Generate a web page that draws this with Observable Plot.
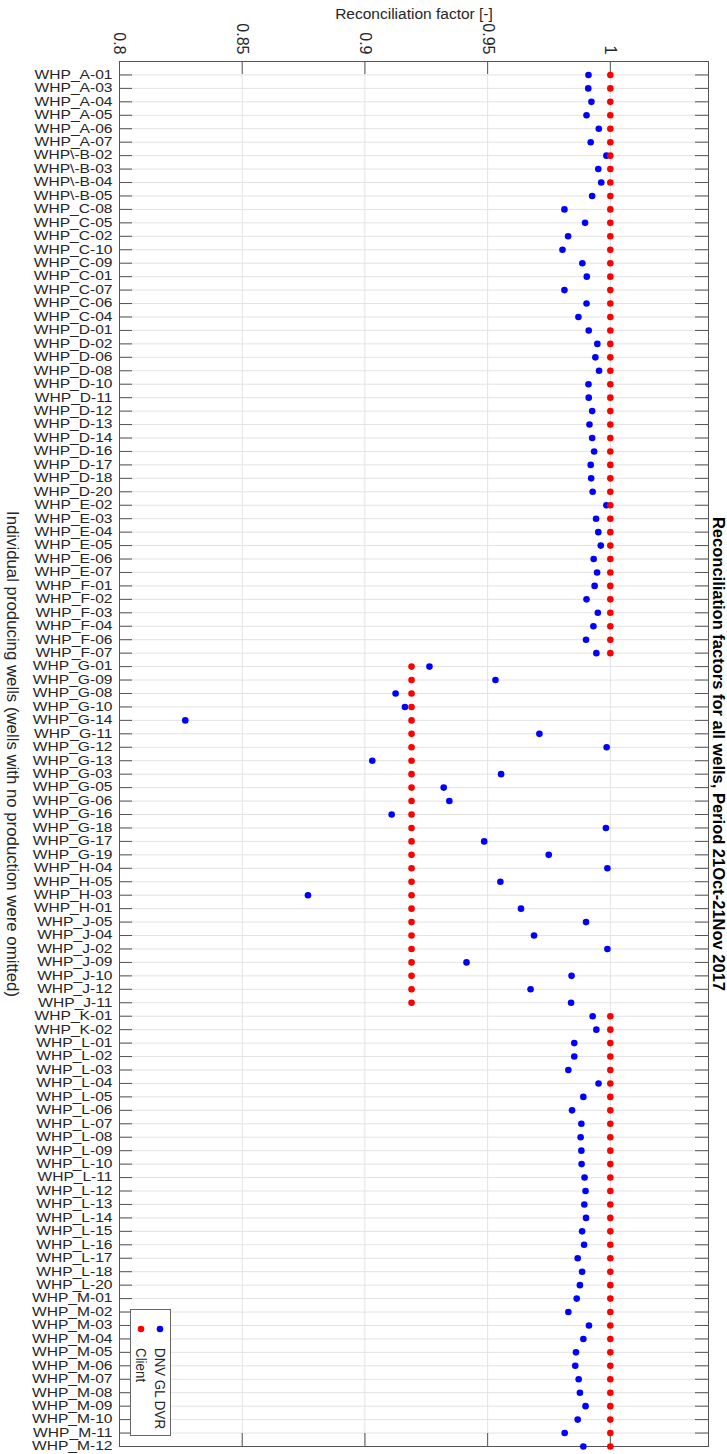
<!DOCTYPE html>
<html>
<head>
<meta charset="utf-8">
<script src="https://cdn.jsdelivr.net/npm/d3@7"></script>
<script src="https://cdn.jsdelivr.net/npm/@observablehq/plot@0.6"></script>
<style>
  html, body { margin: 0; padding: 0; background: #fff; }
  #chart svg { display: block; }
</style>
</head>
<body>
<div id="chart"></div>
<script>
const wells = [
  "WHP_A-01","WHP_A-03","WHP_A-04","WHP_A-05","WHP_A-06","WHP_A-07",
  "WHP\\-B-02","WHP\\-B-03","WHP\\-B-04","WHP\\-B-05",
  "WHP_C-08","WHP_C-05","WHP_C-02","WHP_C-10","WHP_C-09","WHP_C-01","WHP_C-07","WHP_C-06","WHP_C-04",
  "WHP_D-01","WHP_D-02","WHP_D-06","WHP_D-08","WHP_D-10","WHP_D-11","WHP_D-12","WHP_D-13","WHP_D-14","WHP_D-16","WHP_D-17","WHP_D-18","WHP_D-20",
  "WHP_E-02","WHP_E-03","WHP_E-04","WHP_E-05","WHP_E-06","WHP_E-07",
  "WHP_F-01","WHP_F-02","WHP_F-03","WHP_F-04","WHP_F-06","WHP_F-07",
  "WHP_G-01","WHP_G-09","WHP_G-08","WHP_G-10","WHP_G-14","WHP_G-11","WHP_G-12","WHP_G-13","WHP_G-03","WHP_G-05","WHP_G-06","WHP_G-16","WHP_G-18","WHP_G-17","WHP_G-19",
  "WHP_H-04","WHP_H-05","WHP_H-03","WHP_H-01",
  "WHP_J-05","WHP_J-04","WHP_J-02","WHP_J-09","WHP_J-10","WHP_J-12","WHP_J-11",
  "WHP_K-01","WHP_K-02",
  "WHP_L-01","WHP_L-02","WHP_L-03","WHP_L-04","WHP_L-05","WHP_L-06","WHP_L-07","WHP_L-08","WHP_L-09","WHP_L-10","WHP_L-11","WHP_L-12","WHP_L-13","WHP_L-14","WHP_L-15","WHP_L-16","WHP_L-17","WHP_L-18","WHP_L-20",
  "WHP_M-01","WHP_M-02","WHP_M-03","WHP_M-04","WHP_M-05","WHP_M-06","WHP_M-07","WHP_M-08","WHP_M-09","WHP_M-10","WHP_M-11","WHP_M-12"
];

const dvr = [
  0.9911,0.9910,0.9923,0.9903,0.9953,0.9920,
  0.9984,0.9951,0.9963,0.9926,
  0.9813,0.9897,0.9828,0.9805,0.9886,0.9904,0.9813,0.9903,0.9870,
  0.9912,0.9947,0.9939,0.9954,0.9911,0.9912,0.9926,0.9915,0.9926,0.9934,0.9920,0.9922,0.9928,
  0.9984,0.9942,0.9951,0.9961,0.9932,0.9946,
  0.9936,0.9903,0.9949,0.9931,0.9901,0.9943,
  0.9263,0.9532,0.9125,0.9163,0.8268,0.9711,0.9985,0.9030,0.9555,0.9321,0.9344,0.9109,0.9982,0.9486,0.9749,
  0.9988,0.9552,0.8768,0.9636,
  0.9901,0.9689,0.9988,0.9414,0.9842,0.9675,0.9840,
  0.9928,0.9943,
  0.9853,0.9853,0.9829,0.9952,0.9890,0.9844,0.9882,0.9879,0.9882,0.9883,0.9895,0.9899,0.9894,0.9901,0.9885,0.9893,0.9867,0.9885,0.9876,
  0.9863,0.9829,0.9913,0.9890,0.9860,0.9857,0.9871,0.9876,0.9899,0.9867,0.9814,0.9890
];

const client = [
  1,1,1,1,1,1,
  1,1,1,1,
  1,1,1,1,1,1,1,1,1,
  1,1,1,1,1,1,1,1,1,1,1,1,1,
  1,1,1,1,1,1,
  1,1,1,1,1,1,
  0.919,0.919,0.919,0.919,0.919,0.919,0.919,0.919,0.919,0.919,0.919,0.919,0.919,0.919,0.919,
  0.919,0.919,0.919,0.919,
  0.919,0.919,0.919,0.919,0.919,0.919,0.919,
  1,1,
  1,1,1,1,1,1,1,1,1,1,1,1,1,1,1,1,1,1,1,
  1,1,1,1,1,1,1,1,1,1,1,1
];

const xTicks = [0.8, 0.85, 0.9, 0.95, 1];
const xTickLabels = ["0.8", "0.85", "0.9", "0.95", "1"];
const xDomain = [0.8, 1.04];

const titleText = "Reconciliation factors for all wells, Period 21Oct-21Nov 2017";
const xLabelText = "Reconciliation factor [-]";
const yLabelText = "Individual producing wells (wells with no production were omitted)";

const seriesNames = ["DNV GL DVR", "Client"];
const seriesColors = ["#0000ff", "#ff0000"];

const rows = wells.map((w, k) => ({pos: k + 1, well: w, dvr: dvr[k], client: client[k]}));
const positions = rows.map(d => d.pos);

const W = 727, H = 1454;
const mL = 119, mR = 19, mT = 61, mB = 8;
const innerW = W - mL - mR, innerH = H - mT - mB;
const tickLen = 13;
const axisColor = "#555";
const gridColor = "#e3e3e3";
const font = "'Liberation Sans', Arial, Helvetica, sans-serif";

const chart = Plot.plot({
  width: W, height: H,
  marginLeft: mL, marginRight: mR, marginTop: mT, marginBottom: mB,
  x: {domain: xDomain, axis: null},
  y: {domain: [0, wells.length], reverse: true, axis: null},
  style: {fontFamily: font, fontSize: "15px", color: "#262626", background: "#fff", overflow: "visible"},
  marks: [
    Plot.gridY(positions, {stroke: gridColor, strokeOpacity: 1}),
    Plot.gridX(xTicks, {stroke: gridColor, strokeOpacity: 1}),
    // inward ticks on left and right
    Plot.ruleY(positions, {y: d => d, stroke: axisColor, insetRight: innerW - tickLen}),
    Plot.ruleY(positions, {y: d => d, stroke: axisColor, insetLeft: innerW - tickLen}),
    // inward ticks on top and bottom
    Plot.ruleX(xTicks, {x: d => d, stroke: axisColor, insetBottom: innerH - tickLen}),
    Plot.ruleX(xTicks, {x: d => d, stroke: axisColor, insetTop: innerH - tickLen}),
    Plot.frame({stroke: axisColor}),
    Plot.axisY(positions, {anchor: "left", tickSize: 0, tickPadding: 7, label: null,
      tickFormat: p => wells[p - 1], fontSize: 12, fill: "#262626"}),
    Plot.text(xTicks, {x: d => d, text: (d, k) => xTickLabels[k], frameAnchor: "top",
      rotate: 90, textAnchor: "end", lineAnchor: "middle", dy: -7, fontSize: 16, fill: "#262626",
      ariaLabel: "x-tick-label"}),
    Plot.text([xLabelText], {frameAnchor: "top", textAnchor: "middle", lineAnchor: "middle",
      dy: -47, fontSize: 15.5, fill: "#262626", ariaLabel: "x-label"}),
    Plot.text([yLabelText], {frameAnchor: "left", textAnchor: "middle", lineAnchor: "middle",
      rotate: 90, dx: -107, fontSize: 16.8, fill: "#262626", ariaLabel: "y-label"}),
    Plot.text([titleText], {frameAnchor: "right", textAnchor: "middle", lineAnchor: "middle",
      rotate: 90, dx: 10, fontSize: 16.5, fontWeight: "bold", fill: "#000", ariaLabel: "title"}),
    Plot.dot(rows, {x: "dvr", y: "pos", r: 3.3, fill: seriesColors[0], stroke: "none"}),
    Plot.dot(rows, {x: "client", y: "pos", r: 3.3, fill: seriesColors[1], stroke: "none"})
  ]
});

document.getElementById("chart").appendChild(chart);

// The reference figure is slightly anisotropic: stretch text along screen x.
function stretch(label, sx, sy) {
  d3.select(chart).selectAll(`g[aria-label="${label}"] text`).each(function() {
    const el = d3.select(this);
    let t = el.attr("transform");
    if (!t) {
      const x = +el.attr("x") || 0, y = +el.attr("y") || 0;
      t = `translate(${x},${y})`;
      el.attr("x", null).attr("y", null);
    }
    el.attr("transform", `${t} scale(${sx},${sy})`);
  });
}
stretch("y-axis tick label", 1.3, 1);
stretch("x-label", 1.12, 1);
stretch("x-tick-label", 0.84, 1);

// Legend (rotated, like the rest of the figure)
const svg = d3.select(chart);
const lg = svg.append("g").attr("class", "legend");
lg.append("rect").attr("x", 130.5).attr("y", 1309.5).attr("width", 40).attr("height", 126)
  .attr("fill", "#fff").attr("stroke", "#666");
const legendX = [160, 141];
seriesNames.forEach((name, k) => {
  lg.append("circle").attr("cx", legendX[k]).attr("cy", 1329).attr("r", 3.3).attr("fill", seriesColors[k]);
  lg.append("text").attr("transform", `translate(${legendX[k]},1348) rotate(90) scale(0.89,1)`)
    .attr("text-anchor", "start").attr("dy", "0.35em").attr("font-size", 15).attr("fill", "#262626")
    .attr("font-family", font).text(name);
});
</script>
</body>
</html>
